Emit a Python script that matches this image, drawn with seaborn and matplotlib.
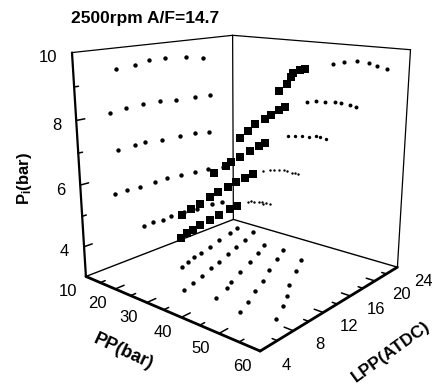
import numpy as np
import matplotlib
matplotlib.use('Agg')
import matplotlib.pyplot as plt
import seaborn as sns
from mpl_toolkits.mplot3d import proj3d

# ---- data: one list per curve (peak pressure, location of peak pressure, IMEP)
pp_1 = [15.2, 16.2, 17.4, 18.9, 19.9, 20.4, 21.4, 22.5]
lpp_1 = [22.2, 20.6, 18.4, 16.4, 14.7, 13.5, 12.3, 11.1]
pi_1 = [3.86, 3.92, 3.94, 3.99, 4.01, 3.96, 4.02, 4.00]
pp_2 = [20.3, 22.4, 23.8, 25.3, 26.9, 27.9, 29.4, 30.5, 31.5]
lpp_2 = [22.4, 20.1, 18.1, 16.2, 14.2, 12.7, 10.8, 9.2, 7.7]
pi_2 = [5.21, 5.30, 5.35, 5.37, 5.42, 5.41, 5.38, 5.40, 5.39]
pp_3 = [28.2, 30.3, 32.4, 34.4, 36.4, 37.7, 39.3]
lpp_3 = [20.3, 18.3, 16.1, 13.7, 11.6, 10.4, 8.3]
pi_3 = [6.67, 6.74, 6.77, 6.79, 6.84, 6.84, 6.82]
pp_4 = [33.7, 36.1, 38.7, 41.4, 43.3, 45.6, 47.3]
lpp_4 = [20.5, 18.3, 15.8, 13.6, 11.5, 9.5, 7.7]
pi_4 = [7.98, 8.04, 8.06, 8.12, 8.12, 8.09, 8.04]
pp_5 = [40.7, 43.7, 47.0, 50.0, 52.2, 54.6]
lpp_5 = [19.6, 17.2, 14.4, 12.5, 10.8, 8.6]
pi_5 = [9.34, 9.44, 9.50, 9.50, 9.41, 9.36]

pp_ticks = [10, 20, 30, 40, 50, 60]
lpp_ticks = [4, 8, 12, 16, 20, 24]
pi_ticks = [4, 6, 8, 10]
pp_minor = [15, 25, 35, 45, 55]
lpp_minor = [6, 10, 14, 18, 22]
pi_minor = [5, 7, 9]

curves = [(pp_1, lpp_1, pi_1), (pp_2, lpp_2, pi_2), (pp_3, lpp_3, pi_3),
          (pp_4, lpp_4, pi_4), (pp_5, lpp_5, pi_5)]

sns.set_theme(style='white')
plt.rcParams['font.family'] = ['Liberation Sans', 'DejaVu Sans']
plt.rcParams['mathtext.fontset'] = 'custom'
plt.rcParams['mathtext.rm'] = 'Liberation Sans'
plt.rcParams['mathtext.bf'] = 'Liberation Sans:bold'

W, H = 432, 385
fig = plt.figure(figsize=(W / 100, H / 100), dpi=100, facecolor='white')
ax = fig.add_axes([46.32 / W, 21.29 / H, H / W, 1], projection='3d', facecolor='none')
ax.computed_zorder = False
ax.set_xlim(10, 60); ax.set_ylim(4, 24); ax.set_zlim(3, 10)
ax.view_init(15.4113, -49.4644)
ax.set_proj_type('persp', focal_length=0.3514)
ax.set_box_aspect((1, 0.9913, 0.9891), zoom=1.0022)
ax.set_axis_off()
ax.apply_aspect()

X0, X1, Y0, Y1, Z0, Z1 = 10, 60, 4, 24, 3, 10
k = 'black'
def edge(a, b, lw):
    ax.plot(*zip(a, b), color=k, lw=lw, solid_capstyle='round', zorder=2)

# frame
edge((X0, Y0, Z0), (X1, Y0, Z0), 2.0)
edge((X1, Y0, Z0), (X1, Y1, Z0), 2.0)
edge((X0, Y0, Z0), (X0, Y0, Z1), 1.6)
edge((X0, Y0, Z0), (X0, Y1, Z0), 1.0)
edge((X0, Y1, Z0), (X1, Y1, Z0), 1.0)
edge((X0, Y1, Z0), (X0, Y1, Z1), 0.9)
edge((X1, Y1, Z0), (X1, Y1, Z1), 0.9)
edge((X0, Y0, Z1), (X0, Y1, Z1), 0.9)
edge((X0, Y1, Z1), (X1, Y1, Z1), 0.9)

# ticks, pointing inward
for v, L in [(t, 1.0) for t in pp_ticks[1:-1]] + [(t, 0.55) for t in pp_minor]:
    edge((v, Y0, Z0), (v, Y0 + L, Z0), 1.1)
for v, L in [(t, 2.2) for t in lpp_ticks[1:-1]] + [(t, 1.2) for t in lpp_minor]:
    edge((X1, v, Z0), (X1 - L, v, Z0), 1.1)
for v, L in [(t, 0.9) for t in pi_ticks[:-1]] + [(t, 0.45) for t in pi_minor]:
    edge((X0, Y0, v), (X0, Y0 + L, v), 1.1)

# wall projections and floor dots, then the 3-D squares
right_size = [3, 3, 6, 8, 9]
for i, (pp, lpp, pi) in enumerate(curves):
    n = len(pp)
    ax.scatter(np.full(n, X0), lpp, pi, s=10, c=k, marker='o', depthshade=False, linewidths=0, zorder=3)
    ax.scatter(pp, np.full(n, Y1), pi, s=right_size[i], c=k, marker='o', depthshade=False, linewidths=0, zorder=3)
    ax.scatter(pp, lpp, np.full(n, Z0), s=10, c=k, marker='o', depthshade=False, linewidths=0, zorder=3)
for pp, lpp, pi in curves:
    ax.scatter(pp, lpp, pi, s=30, c=k, marker='s', depthshade=False, linewidths=0, zorder=4)

# tick labels placed from the projected tick positions
def label(xyz, txt, off, ha='center'):
    M = ax.get_proj()
    a, b, _ = proj3d.proj_transform(*[np.array([float(c)]) for c in xyz], M)
    ax.annotate(txt, (a[0], b[0]), xycoords='data', xytext=(off[0] * .72, off[1] * .72),
                textcoords='offset points', ha=ha, va='center', fontsize=12,
                color=k, annotation_clip=False)
for t in pp_ticks:
    label((t, Y0, Z0), str(t), (-18, -15))
for t in lpp_ticks:
    label((X1, t, Z0), str(t), (26, -14))
for t in pi_ticks:
    label((X0, Y0, t), str(t), (-15, -5), ha='right')

def ftext(x, y, s, **kw):
    fig.text(x / W, 1 - y / H, s, ha='center', va='center', color=k, **kw)
ftext(145, 19, '2500rpm A/F=14.7', fontsize=12.5, fontweight='bold')
ftext(24, 178, r'$\mathbf{P_{i}}$(bar)', fontsize=12, fontweight='bold', rotation=90)
ftext(123, 352, 'PP(bar)', fontsize=13, fontweight='bold', rotation=-25, rotation_mode='anchor')
ftext(391, 352, 'LPP(ATDC)', fontsize=12.5, fontweight='bold', rotation=36, rotation_mode='anchor')

fig.savefig('out.png', dpi=100, facecolor='white')
